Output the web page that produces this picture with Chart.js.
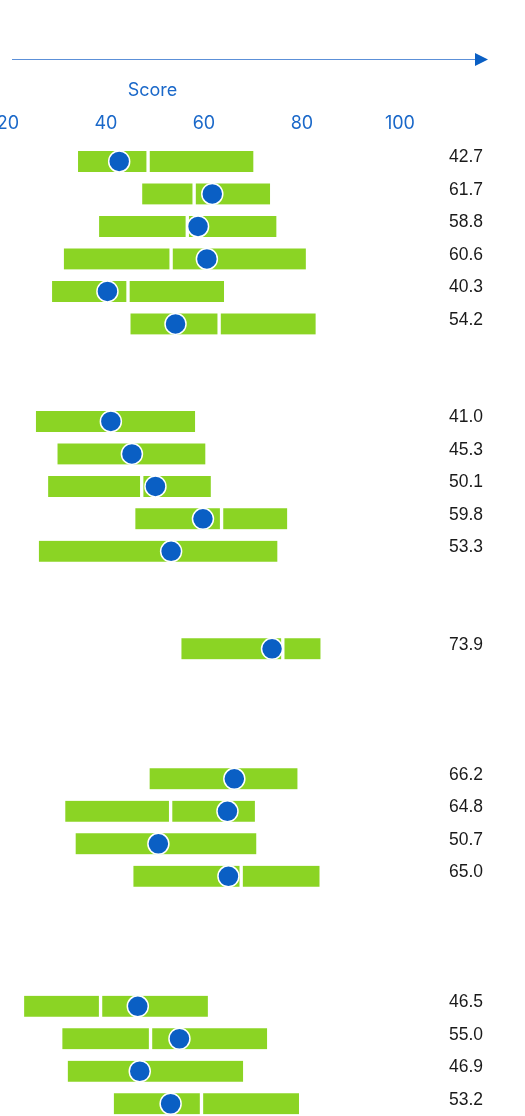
<!DOCTYPE html>
<html>
<head>
<meta charset="utf-8">
<script src="https://cdn.jsdelivr.net/npm/chart.js@4.4.1/dist/chart.umd.min.js"></script>
<style>
  html, body { margin: 0; padding: 0; background: #fff; overflow: hidden; }
  #chart { position: absolute; left: -150px; top: 0; }
</style>
</head>
<body>
<canvas id="chart" width="675" height="1125"></canvas>
<script>
// Rows (empty strings are the spacer rows between groups)
const rows = [
  'A1', 'A2', 'A3', 'A4', 'A5', 'A6', '', '',
  'B1', 'B2', 'B3', 'B4', 'B5', '', '',
  'C1', '', '', '',
  'D1', 'D2', 'D3', 'D4', '', '', '',
  'E1', 'E2', 'E3', 'E4'
];

const lows = [
  34.3, 47.4, 38.6, 31.4, 29.0, 45.0, null, null,
  25.7, 30.1, 28.2, 46.0, 26.3, null, null,
  55.4, null, null, null,
  48.9, 31.7, 33.8, 45.6, null, null, null,
  23.3, 31.1, 32.2, 41.6
];
const medians = [
  48.6, 58.0, 56.6, 53.3, 44.5, 63.1, null, null,
  41.0, 45.0, 47.3, 63.6, 53.0, null, null,
  76.1, null, null, null,
  66.0, 53.2, 50.5, 67.6, null, null, null,
  38.9, 49.1, 47.0, 59.5
];
const highs = [
  70.1, 73.5, 74.8, 80.8, 64.1, 82.8, null, null,
  58.2, 60.3, 61.4, 77.0, 75.0, null, null,
  83.8, null, null, null,
  79.1, 70.4, 70.7, 83.6, null, null, null,
  60.8, 72.9, 68.0, 79.4
];
const scores = [
  42.7, 61.7, 58.8, 60.6, 40.3, 54.2, null, null,
  41.0, 45.3, 50.1, 59.8, 53.3, null, null,
  73.9, null, null, null,
  66.2, 64.8, 50.7, 65.0, null, null, null,
  46.5, 55.0, 46.9, 53.2
];
const xTicks = [20, 40, 60, 80, 100];

const GREEN = '#8BD424';
const BLUE = '#0A5FC4';
const AXIS_BLUE = '#1A68C9';

const lowerPart = lows.map((l, i) => l == null ? null : [l, medians[i]]);
const upperPart = highs.map((h, i) => h == null ? null : [medians[i], h]);

// value labels on the right
const valueLabels = {
  id: 'valueLabels',
  afterDatasetsDraw(chart) {
    const ctx = chart.ctx;
    const y = chart.scales.y;
    ctx.save();
    ctx.font = '17.5px "Liberation Sans", Arial, sans-serif';
    ctx.fillStyle = '#1a1a1a';
    ctx.textAlign = 'right';
    ctx.textBaseline = 'middle';
    scores.forEach((s, i) => {
      if (s == null) return;
      ctx.fillText(s.toFixed(1), chart.width - 42, y.getPixelForValue(i) - 4);
    });
    ctx.restore();
  }
};

// axis arrow above the title
const axisArrow = {
  id: 'axisArrow',
  afterDraw(chart) {
    const ctx = chart.ctx;
    const y = 59.5;
    const x0 = 162, x1 = 638;
    ctx.save();
    ctx.strokeStyle = '#5C90D8';
    ctx.lineWidth = 1;
    ctx.beginPath();
    ctx.moveTo(x0, y);
    ctx.lineTo(x1 - 12, y);
    ctx.stroke();
    ctx.fillStyle = BLUE;
    ctx.beginPath();
    ctx.moveTo(x1 - 13, y - 6.5);
    ctx.lineTo(x1, y);
    ctx.lineTo(x1 - 13, y + 6.5);
    ctx.closePath();
    ctx.fill();
    ctx.restore();
  }
};

new Chart(document.getElementById('chart'), {
  type: 'bar',
  data: {
    labels: rows,
    datasets: [
      {
        type: 'line',
        data: scores,
        showLine: false,
        pointRadius: 10.5,
        pointHoverRadius: 10.5,
        pointBackgroundColor: BLUE,
        pointBorderColor: '#ffffff',
        pointBorderWidth: 1.5,
        order: 0
      },
      {
        data: lowerPart,
        backgroundColor: GREEN,
        borderColor: '#ffffff',
        borderWidth: { right: 2, left: 0, top: 0, bottom: 0 },
        borderSkipped: false,
        barThickness: 21,
        grouped: false,
        order: 1
      },
      {
        data: upperPart,
        backgroundColor: GREEN,
        borderColor: '#ffffff',
        borderWidth: { left: 2, right: 0, top: 0, bottom: 0 },
        borderSkipped: false,
        barThickness: 21,
        grouped: false,
        order: 2
      }
    ]
  },
  options: {
    indexAxis: 'y',
    responsive: false,
    animation: false,
    devicePixelRatio: 1,
    layout: { autoPadding: false, padding: { left: 11, right: 81, top: 80, bottom: 5 } },
    plugins: {
      legend: { display: false },
      tooltip: { enabled: false }
    },
    scales: {
      x: {
        type: 'linear',
        position: 'top',
        min: -10,
        max: 109,
        afterBuildTicks: (axis) => { axis.ticks = xTicks.map(v => ({ value: v })); },
        grid: { display: false, drawTicks: false },
        border: { display: false },
        ticks: {
          autoSkip: false,
          maxRotation: 0,
          padding: 11,
          color: AXIS_BLUE,
          font: { family: 'Inter', size: 18 }
        },
        title: {
          display: true,
          text: 'Score',
          color: AXIS_BLUE,
          font: { family: 'Inter', size: 18 },
          padding: { top: 0, bottom: 0 }
        }
      },
      y: {
        type: 'category',
        display: false,
        offset: true
      }
    }
  },
  plugins: [valueLabels, axisArrow]
});
</script>
</body>
</html>
